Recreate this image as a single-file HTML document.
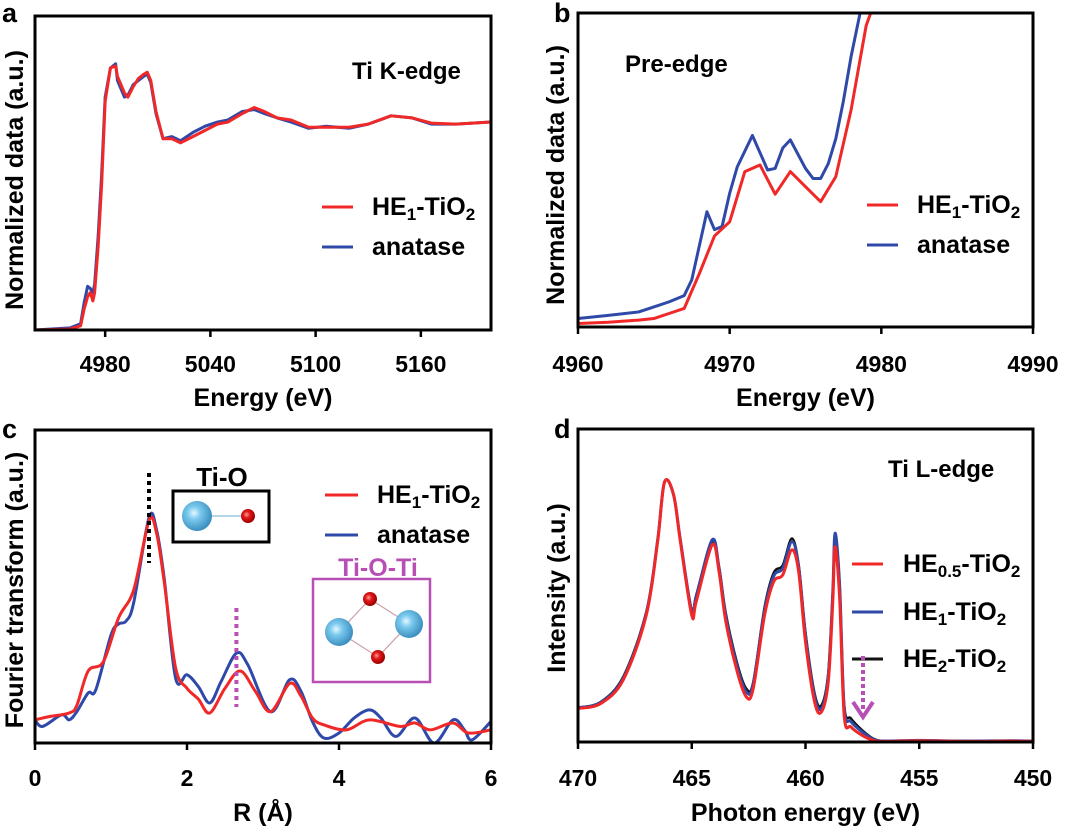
<!DOCTYPE html>
<html><head><meta charset="utf-8">
<style>
html,body{margin:0;padding:0;background:#fff;}
svg{display:block;font-family:"Liberation Sans",Arial,sans-serif;font-weight:bold;}
</style></head>
<body>
<svg id="fig" width="1080" height="829" viewBox="0 0 1080 829" xmlns="http://www.w3.org/2000/svg">
<defs>
<radialGradient id="tiG" cx="0.4" cy="0.4" r="0.6"><stop offset="0" stop-color="#e8f7ff"/><stop offset="0.35" stop-color="#7ccbef"/><stop offset="1" stop-color="#3c8fc0"/></radialGradient>
<radialGradient id="oG" cx="0.4" cy="0.4" r="0.6"><stop offset="0" stop-color="#ff9a9a"/><stop offset="0.4" stop-color="#e01818"/><stop offset="1" stop-color="#9a0000"/></radialGradient>
</defs>
<g id="layer"></g>
</svg>
<script>
// ---------- Panel a data ----------
const aX = [4940,4960,4966,4968,4970,4971.5,4973,4974,4976,4978,4980,4983,4986,4987,4989,4991,4993,4996,4999,5002,5004,5006,5009,5013,5018,5023,5030,5037,5044,5050,5058,5065,5071,5078,5086,5096,5106,5119,5130,5143,5155,5166,5180,5200];
const aRed = [0,0.005,0.02,0.1,0.16,0.18,0.14,0.18,0.4,0.7,1.1,1.26,1.27,1.22,1.18,1.14,1.12,1.17,1.21,1.23,1.24,1.2,1.05,0.92,0.92,0.9,0.93,0.96,0.99,1.0,1.04,1.07,1.05,1.02,1.01,0.975,0.975,0.975,0.99,1.03,1.02,0.995,0.99,1.0];
const aBlue = [0,0.01,0.03,0.13,0.21,0.2,0.18,0.22,0.45,0.75,1.12,1.26,1.28,1.2,1.16,1.12,1.13,1.18,1.2,1.22,1.23,1.19,1.04,0.92,0.93,0.91,0.95,0.98,1.0,1.01,1.05,1.06,1.04,1.02,1.0,0.97,0.98,0.97,0.99,1.03,1.02,0.99,0.99,1.0];
// ---------- Panel b data ----------
const bXr = [4960,4962,4964,4965,4966,4967,4968,4969,4970,4971,4972,4973,4974,4975,4976,4977,4978,4979,4979.3];
const bRed = [1.1,1.5,2.2,2.7,4.3,5.9,17,29,33.5,49.5,51.6,42.3,49.5,44.7,39.9,47.9,69,96,100];
const bXb = [4960,4962,4964,4965,4966,4967,4967.5,4968.5,4969,4969.5,4970,4970.5,4971.5,4972.5,4973,4973.5,4974,4975,4975.5,4976,4976.5,4977,4977.5,4978,4978.6];
const bBlue = [2.7,3.7,4.8,6.4,8,10,15,36.7,31,32,42.6,51,61,50,50.5,57,59.6,50.5,47.3,47.3,52,60,72,86,100];
// ---------- Panel c data ----------
const cXr = [0,0.2,0.45,0.55,0.7,0.9,1.1,1.3,1.5,1.6,1.7,1.85,2.0,2.15,2.3,2.5,2.7,2.9,3.1,3.35,3.5,3.65,3.8,4.1,4.4,4.8,5.0,5.2,5.5,5.7,6.0];
const cRed = [7.4,8.5,9.6,12,23,26,40,49,71,67,51.5,24,17.5,14,9.6,17.5,23,16.5,10,19,15,8,5.8,4.2,7.4,5.3,6.4,4.2,6.4,3.2,4.2];
const cXb = [0,0.1,0.35,0.45,0.55,0.7,0.8,1.0,1.1,1.2,1.3,1.5,1.6,1.7,1.85,2.0,2.15,2.3,2.45,2.65,2.8,3.1,3.35,3.5,3.65,3.8,4.0,4.2,4.4,4.55,4.75,5.0,5.25,5.5,5.65,5.75,6.0];
const cBlue = [7.4,5.3,9,7.4,10,16,17,34.5,38,39,45,72,68,52.6,20.7,21.8,18,12.8,19.7,28.7,25,10,20.2,16.5,6.9,1.6,3.2,8,10.6,8,2.1,8,0,7.4,4.2,1,6.9];
// ---------- Panel d data ----------
const dX = [470,469,468,467,466.5,466.2,465.8,465.5,465,464.8,464.1,463.8,463.5,463,462.6,462.3,461.8,461.4,461,460.6,460.3,460,459.6,459.3,459.0,458.8,458.7,458.5,458.3,458,457.5,457,456.5,455,453,451,450];
const dRed = [10.7,12.3,20,40.5,64,83,79,64,40.5,45,63,54.4,38.4,22.4,14.4,17,40.5,51.2,53.4,61.4,54.4,32,12.8,9.6,19.2,45,62.4,46,8.5,4.8,2.1,0.5,0.2,0.4,0.2,0.3,0.2];
const dBlue = [10.9,12.6,20.5,41,64.5,83,79,64.5,41.6,46.5,64.6,55.5,40,24,16,18.5,42,53,55.5,64,56,34,14.5,10.7,21,48,66.7,50,11,6.5,3.2,0.8,0.3,0.5,0.3,0.4,0.3];
const dBlack = [11,12.8,21,41.5,64.5,83,79,64.5,42,47,64,56,41,25,17,19,43,54,56.5,65,56.5,35,15.5,11.7,22,48,65,50,12,7.5,3.7,1,0.3,0.4,0.3,0.4,0.3];

const NS="http://www.w3.org/2000/svg";
const layer=document.getElementById('layer');
function mk(tag,attrs,parent){const e=document.createElementNS(NS,tag);for(const k in attrs)e.setAttribute(k,attrs[k]);(parent||layer).appendChild(e);return e;}
function lin(d0,d1,r0,r1){return v=>r0+(v-d0)*(r1-r0)/(d1-d0);}
function pathStr(xs,ys,sx,sy,smooth){
  const p=xs.map((x,i)=>[sx(x),sy(ys[i])]);
  let d='M'+p[0][0].toFixed(2)+','+p[0][1].toFixed(2);
  for(let i=1;i<p.length;i++){
    if(!smooth){d+='L'+p[i][0].toFixed(2)+','+p[i][1].toFixed(2);continue;}
    const p0=p[i-2]||p[i-1],p1=p[i-1],p2=p[i],p3=p[i+1]||p[i];
    const c1=[p1[0]+(p2[0]-p0[0])/6,p1[1]+(p2[1]-p0[1])/6];
    const c2=[p2[0]-(p3[0]-p1[0])/6,p2[1]-(p3[1]-p1[1])/6];
    d+='C'+c1.map(v=>v.toFixed(2))+' '+c2.map(v=>v.toFixed(2))+' '+p2.map(v=>v.toFixed(2));
  }
  return d;
}
function txt(x,y,s,size,anchor,fill,parent){const t=mk('text',{x:x,y:y,'font-size':size,'text-anchor':anchor||'start',fill:fill||'#000'},parent);t.textContent=s;return t;}

function frame(id,L,T,R,B){
  const g=mk('g',{});
  
  
  const clip=mk('clipPath',{id:'clip-'+id},g);mk('rect',{x:L,y:T,width:R-L,height:B-T},clip);
  return g;
}
function drawAxes(g,id,L,T,R,B,ticks,sx,tickY,xtitle,ytitle,ytX,ytY,xtY){
  const ax=mk('g',{},g);
  
  
  ticks.forEach(t=>{
    const x=sx(t);
    mk('line',{x1:x,y1:B,x2:x,y2:B+7,stroke:'#000','stroke-width':2.5},ax);
    const lb=txt(x,tickY,String(t),23,'middle','#000',ax);
    
    
  });
  const xt=txt((L+R)/2,xtY,'',25,'middle','#000',g);
  xt.innerHTML=xtitle;
  
  
  const yt=txt(0,0,ytitle,25,'middle','#000',g);
  yt.setAttribute('transform','translate('+ytX+','+ytY+') rotate(-90)');
  yt.setAttribute('dominant-baseline','central');
  
  
}
function border(g,L,T,R,B){const r=mk('rect',{x:L,y:T,width:R-L,height:B-T,fill:'none',stroke:'#000','stroke-width':3},g);}
function series(g,id,xs,ys,sx,sy,color,name,smooth,w){
  const p=mk('path',{d:pathStr(xs,ys,sx,sy,smooth),fill:'none',stroke:color,'stroke-width':w||2.5,'stroke-linejoin':'round','clip-path':'url(#clip-'+id+')'},g);
  
  
}
function legend(g,x1,x2,tx,entries){
  entries.forEach(e=>{
    const lg=mk('g',{},g);
    
    
    mk('line',{x1:x1,y1:e.y,x2:x2,y2:e.y,stroke:e.c,'stroke-width':3},lg);
    const t=txt(tx,e.y+8,'',25,'start','#000',lg);
    t.innerHTML=e.label;
  });
}
function panelLetter(s,x,y){const t=txt(x,y,s,27,'start');}
const HE=(n)=>'HE<tspan font-size="17" dy="5">'+n+'</tspan><tspan dy="-5">-TiO</tspan><tspan font-size="17" dy="5">2</tspan>';

// ===== Panel a =====
(function(){
  const L=35,T=16,R=491,B=330;
  const sx=lin(4940,5200,L,R), sy=lin(0,1.51,B,T);
  const g=frame('panel-a',L,T,R,B);
  series(g,'panel-a',aX,aBlue,sx,sy,'#2f49a8','anatase-line',false,3);
  series(g,'panel-a',aX,aRed,sx,sy,'#f02828','he1-tio2-line',false,3);
  border(g,L,T,R,B);
  drawAxes(g,'panel-a',L,T,R,B,[4980,5040,5100,5160],sx,372,'Energy (eV)','Normalized data (a.u.)',15,180,406);
  const t=txt(352,79,'Ti K-edge',24,'start','#000',g);
  legend(g,322,353,372,[{y:207,c:'#f02828',label:HE(1)},{y:247,c:'#2f49a8',label:'anatase'}]);
  panelLetter('a',2,22);
})();
// ===== Panel b =====
(function(){
  const L=578,T=13,R=1033,B=327;
  const sx=lin(4960,4990,L,R), sy=lin(0,100,B,T);
  const g=frame('panel-b',L,T,R,B);
  series(g,'panel-b',bXb,bBlue,sx,sy,'#2f49a8','anatase-line',false,3);
  series(g,'panel-b',bXr,bRed,sx,sy,'#f02828','he1-tio2-line',false,3);
  border(g,L,T,R,B);
  drawAxes(g,'panel-b',L,T,R,B,[4960,4970,4980,4990],sx,372,'Energy (eV)','Normalized data (a.u.)',556,175,406);
  const t=txt(625,72,'Pre-edge',24,'start','#000',g);
  legend(g,867,898,917,[{y:205,c:'#f02828',label:HE(1)},{y:245,c:'#2f49a8',label:'anatase'}]);
  panelLetter('b',554,22);
})();
// ===== Panel c =====
(function(){
  const L=35,T=430,R=491,B=743;
  const sx=lin(0,6,L,R), sy=lin(0,100,B,T);
  const g=frame('panel-c',L,T,R,B);
  series(g,'panel-c',cXb,cBlue,sx,sy,'#2f49a8','anatase-line',true,3);
  series(g,'panel-c',cXr,cRed,sx,sy,'#f02828','he1-tio2-line',true,3);
  const d1=mk('line',{x1:sx(1.5),y1:473,x2:sx(1.5),y2:563,stroke:'#000','stroke-width':4,'stroke-dasharray':'4,4'},g);
  
  const d2=mk('line',{x1:sx(2.65),y1:608,x2:sx(2.65),y2:707,stroke:'#b84fb5','stroke-width':4,'stroke-dasharray':'4,4'},g);
  
  border(g,L,T,R,B);
  drawAxes(g,'panel-c',L,T,R,B,[0,2,4,6],sx,786,'R (Å)','Fourier transform (a.u.)',15,590,821);
  const i1=mk('g',{},g);
  txt(222,486,'Ti-O',26,'middle','#000',i1);
  mk('rect',{x:173,y:491,width:96,height:51,fill:'#fff',stroke:'#000','stroke-width':3},i1);
  mk('line',{x1:197,y1:516,x2:248,y2:516,stroke:'#9cc7de','stroke-width':1.5},i1);
  mk('circle',{cx:197,cy:516,r:15,fill:'url(#tiG)'},i1);
  mk('circle',{cx:248,cy:516,r:7,fill:'url(#oG)'},i1);
  const i2=mk('g',{},g);
  txt(378,576,'Ti-O-Ti',25,'middle','#b84fb5',i2);
  mk('rect',{x:313,y:579,width:117,height:103,fill:'#fff',stroke:'#b84fb5','stroke-width':2.5},i2);
  mk('polygon',{points:'339,632 370,599 409,624 378,657',fill:'none',stroke:'#c9a0a8','stroke-width':1.2},i2);
  mk('circle',{cx:370,cy:599,r:7,fill:'url(#oG)'},i2);
  mk('circle',{cx:378,cy:657,r:7,fill:'url(#oG)'},i2);
  mk('circle',{cx:339,cy:632,r:14,fill:'url(#tiG)'},i2);
  mk('circle',{cx:409,cy:624,r:14,fill:'url(#tiG)'},i2);
  legend(g,325,358,377,[{y:495,c:'#f02828',label:HE(1)},{y:535,c:'#2f49a8',label:'anatase'}]);
  panelLetter('c',2,438);
})();
// ===== Panel d =====
(function(){
  const L=578,T=429,R=1033,B=742;
  const sx=lin(470,450,L,R), sy=lin(0,100,B,T);
  const g=frame('panel-d',L,T,R,B);
  series(g,'panel-d',dX,dBlack,sx,sy,'#111','he2-tio2-line',true,2.5);
  series(g,'panel-d',dX,dBlue,sx,sy,'#2f49a8','he1-tio2-line',true,3);
  series(g,'panel-d',dX,dRed,sx,sy,'#f02828','he05-tio2-line',true,3);
  border(g,L,T,R,B);
  drawAxes(g,'panel-d',L,T,R,B,[470,465,460,455,450],sx,786,'Photon energy (eV)','Intensity (a.u.)',557,588,821);
  const t=txt(888,477,'Ti L-edge',24,'start','#000',g);
  legend(g,852,883,903,[{y:564,c:'#f02828',label:HE('0.5')},{y:612,c:'#2f49a8',label:HE(1)},{y:659,c:'#111',label:HE(2)}]);
  const ar=mk('g',{},g);
  mk('line',{x1:863,y1:656,x2:863,y2:710,stroke:'#b84fb5','stroke-width':4,'stroke-dasharray':'4,3'},ar);
  mk('polyline',{points:'853,702 863,717 873,702',fill:'none',stroke:'#b84fb5','stroke-width':4},ar);
  panelLetter('d',554,438);
})();
</script>
</body></html>
